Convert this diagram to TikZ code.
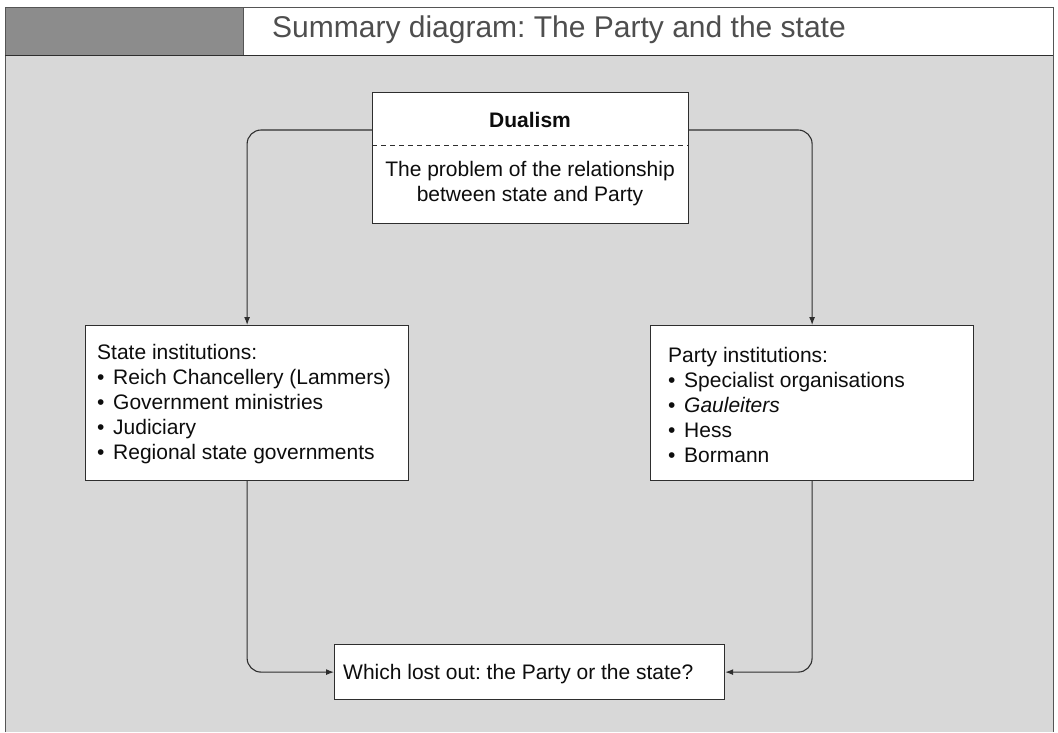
\documentclass[tikz,border=0pt]{standalone}
\usepackage{fontspec}
\setmainfont{Liberation Sans}
\usetikzlibrary{arrows.meta}
\definecolor{bgmain}{HTML}{D8D8D8}
\definecolor{bgdark}{HTML}{8C8C8C}
\definecolor{titlegray}{HTML}{4E4E4E}
\definecolor{linegray}{HTML}{2E2E2E}
\definecolor{framegray}{HTML}{555555}
\frenchspacing
\begin{document}
\begin{tikzpicture}[x=1pt,y=-1pt,
  box/.style={draw=linegray, fill=white, line width=1.2pt, inner sep=0pt, anchor=north west},
  conn/.style={draw=linegray, line width=1.1pt, rounded corners=14pt, -{Latex[length=8pt,width=6pt]}},
  txt/.style={font=\fontsize{21}{25}\selectfont, text=black!95, inner sep=0pt, align=left}
]
\newcommand{\bl}{\makebox[16pt][l]{•}}
\useasboundingbox (0,0) rectangle (1058,732);
\fill[white] (0,0) rectangle (1058,732);
\fill[bgmain] (5,55) rectangle (1053,732);
\fill[bgdark] (5,7) rectangle (243,55);
\fill[white] (243,7) rectangle (1053,55);
\draw[framegray, line width=0.8pt] (5,732) -- (5,7) -- (1053,7) -- (1053,732);
\draw[linegray, line width=1pt] (5,55) -- (1053,55);
\draw[framegray, line width=0.8pt] (243,7) -- (243,55);
\node[anchor=base west, font=\fontsize{30}{36}\selectfont, text=titlegray, inner sep=0pt] (title) at (272,37) {Summary diagram: The Party and the state};

% Dualism box
\node[box, minimum width=316pt, minimum height=131pt] (dual) at (372,92) {};
\draw[linegray, line width=1pt, dash pattern=on 5pt off 4pt] ([yshift=-53pt]dual.north west) -- ([yshift=-53pt]dual.north east);
\node[txt, font=\fontsize{21}{25}\selectfont\bfseries, anchor=base] (dualhead) at (530,127) {Dualism};
\node[txt, align=center] (dualtext) at (530,184) {The problem of the relationship\\between state and Party};

% State box
\node[box, minimum width=323pt, minimum height=155pt] (state) at (85,325) {};
\node[txt, anchor=west] (statetext) at (97,404.5) {State institutions:\\
\bl Reich Chancellery (Lammers)\\
\bl Government ministries\\
\bl Judiciary\\
\bl Regional state governments};

% Party box
\node[box, minimum width=323pt, minimum height=155pt] (party) at (650,325) {};
\node[txt, anchor=west] (partytext) at (668,404.5) {Party institutions:\\
\bl Specialist organisations\\
\bl \textit{Gauleiters}\\
\bl Hess\\
\bl Bormann};

% Which box
\node[box, minimum width=390pt, minimum height=55pt] (which) at (334,644) {};
\node[txt, anchor=base west] (whichtext) at (343,679) {Which lost out: the Party or the state?};

% connectors
\draw[conn] ([yshift=-38pt]dual.north west) -| (state.north);
\draw[conn] ([yshift=-38pt]dual.north east) -| (party.north);
\draw[conn] (state.south) |- (which.west);
\draw[conn] (party.south) |- (which.east);
\end{tikzpicture}
\end{document}
